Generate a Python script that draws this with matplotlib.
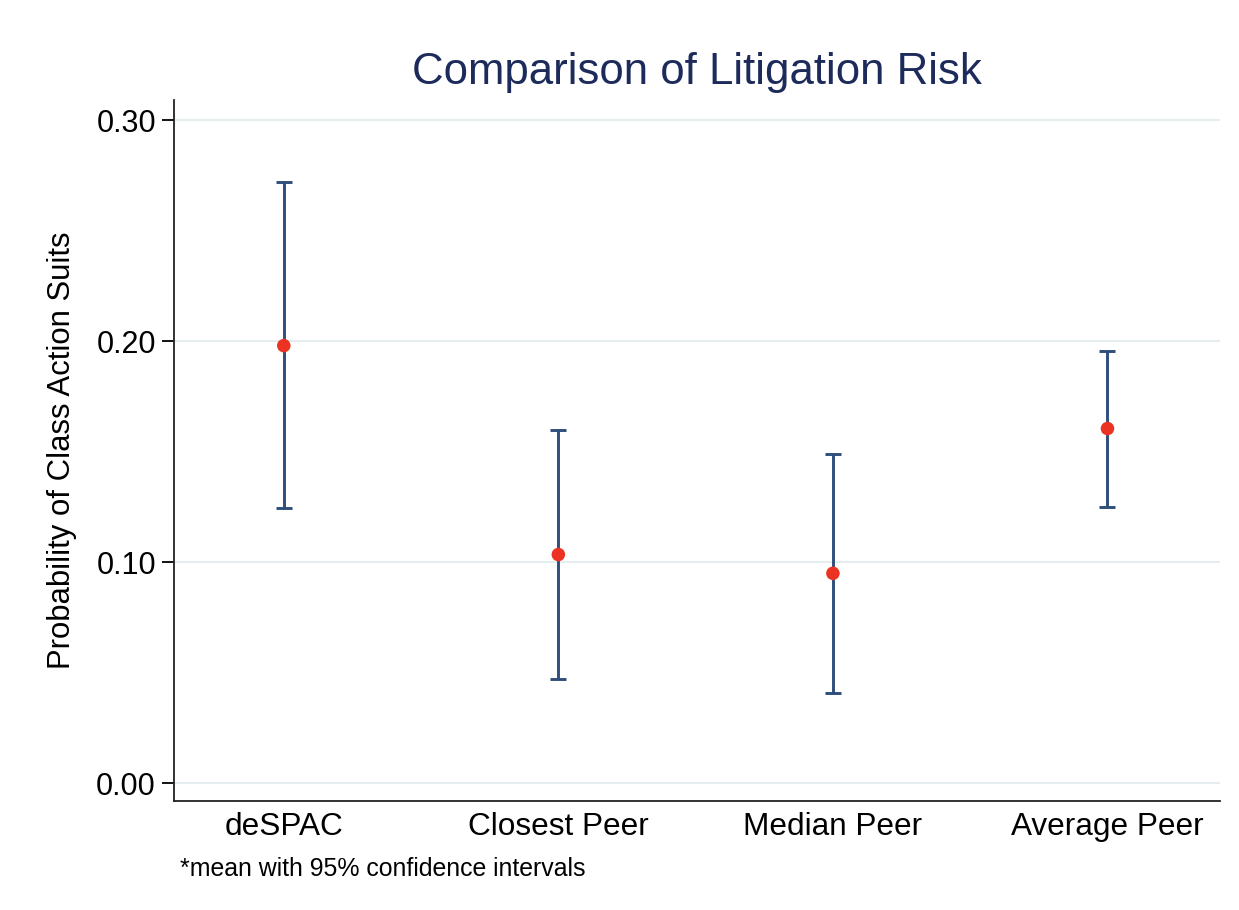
import numpy as np
import matplotlib.pyplot as plt

plt.rcParams['font.family'] = ['Liberation Sans', 'DejaVu Sans']

groups = ['deSPAC', 'Closest Peer', 'Median Peer', 'Average Peer']
means = [0.198, 0.1035, 0.095, 0.1605]
lower = [0.1245, 0.047, 0.0408, 0.125]
upper = [0.272, 0.1597, 0.149, 0.1956]

fig = plt.figure(figsize=(12.39, 9.10), dpi=100)
ax = fig.add_axes([0.1404, 0.1198, 0.8443, 0.770])

x = np.arange(1, len(groups) + 1)
m = np.array(means)
yerr = [m - np.array(lower), np.array(upper) - m]
ax.errorbar(x, m, yerr=yerr, fmt='none', ecolor='#2f4e7c', elinewidth=2.1,
            capsize=6, capthick=2.1, zorder=2)
ax.scatter(x, m, s=95, color='#ec3323', zorder=3, edgecolor='none')

ax.set_xlim(0.6, 4.41)
ax.set_ylim(-0.008, 0.309)
ax.set_yticks([0, 0.1, 0.2, 0.3])
ax.set_yticklabels(['0.00', '0.10', '0.20', '0.30'])
ax.set_xticks(x)
ax.set_xticklabels(groups)
ax.tick_params(axis='y', labelsize=22, length=9, width=1.3, pad=4)
ax.tick_params(axis='x', labelsize=22.7, length=0, pad=8)
ax.grid(axis='y', color='#e6edf1', linewidth=1.5)
ax.set_axisbelow(True)
for s in ['top', 'right']:
    ax.spines[s].set_visible(False)
for s in ['left', 'bottom']:
    ax.spines[s].set_linewidth(1.3)
    ax.spines[s].set_color('#222222')

ax.set_ylabel('Probability of Class Action Suits', fontsize=22.4, labelpad=14)
ax.set_title('Comparison of Litigation Risk', fontsize=31.5, color='#1c2b5a', pad=12)
fig.text(0.145, 0.037, '*mean with 95% confidence intervals', fontsize=17.9)

fig.savefig('out.png', dpi=100, facecolor='white')
